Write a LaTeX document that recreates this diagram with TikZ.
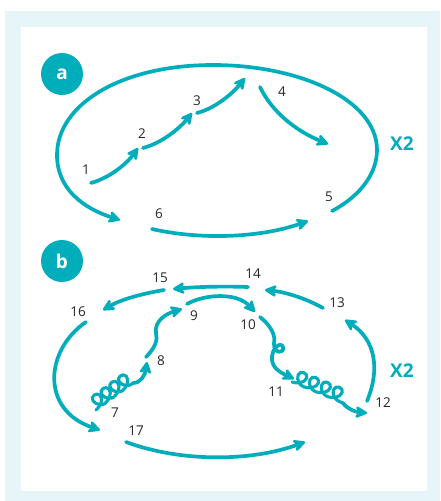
\documentclass[tikz,border=0pt]{standalone}
\usepackage{fontspec}
\setmainfont{Open Sans}
\usetikzlibrary{arrows.meta}
\definecolor{teal1}{RGB}{0,173,187}
\definecolor{bgc}{RGB}{230,245,247}
\tikzset{
  ln/.style={draw=teal1,line width=3.7pt,line cap=round,line join=round},
  arr/.style={ln,-{Stealth[length=15pt,width=15pt,inset=5pt,round]}},
  lbl/.style={font=\fontsize{13.5}{13.5}\selectfont,text=black!85,inner sep=0pt},
  xtwo/.style={font=\fontsize{19}{19}\selectfont\bfseries,text=teal1,inner sep=0pt},
  badge/.style={circle,fill=teal1,minimum size=42pt,inner sep=0pt,text=white,font=\fontsize{19}{19}\selectfont\bfseries},
  coilln/.style={ln,line width=3.1pt}
}
% cursive loops along local x axis: #1 = number of loops minus one, #2 = period, #3 = total length
\newcommand{\mycoil}[3]{%
  \draw[coilln] (0,0) foreach \i in {0,...,#1} {
     .. controls ({\i*#2+5},0) and ({\i*#2+12.5},4) .. ({\i*#2+12},9.5)
     .. controls ({\i*#2+11.5},14.5) and ({\i*#2+2.8},14.5) .. ({\i*#2+3},9)
     .. controls ({\i*#2+3.2},3.5) and ({\i*#2+8},0) .. ({\i*#2+#2},0) } -- (#3,0);}
\begin{document}
\begin{tikzpicture}[x=1pt,y=-1pt]
\useasboundingbox (0,0) rectangle (440,501);
\fill[bgc] (5,11) rectangle (440,501);
\fill[white] (21,27) rectangle (427,491);
% badges
\node[badge] (ba) at (62,74) {a};
\node[badge] (bb) at (62,261) {b};
% ---------- part a ----------
\node[lbl] (n1) at (86,170) {1};
\node[lbl] (n2) at (142,134) {2};
\node[lbl] (n3) at (197,101) {3};
\node[lbl] (n4) at (282,92) {4};
\node[lbl] (n5) at (329,197) {5};
\node[lbl] (n6) at (159,214) {6};
\node[xtwo] (xa) at (402,144) {X2};
\coordinate (a1s) at (91,183); \coordinate (a1e) at (138,148);
\coordinate (a2s) at (143,148); \coordinate (a2e) at (192,113);
\coordinate (a3s) at (197,113); \coordinate (a3e) at (245,78);
\coordinate (a4s) at (260,87); \coordinate (a4e) at (328,144);
\coordinate (a5s) at (332,211); \coordinate (a5e) at (120,220);
\coordinate (a6s) at (152,229); \coordinate (a6e) at (308,221);
\draw[arr] (a1s) .. controls (112,177) and (128,162) .. (a1e);
\draw[arr] (a2s) .. controls (162,143) and (180,128) .. (a2e);
\draw[arr] (a3s) .. controls (216,108) and (233,93) .. (a3e);
\draw[arr] (a4s) .. controls (272,112) and (296,131) .. (a4e);
\draw[arr] (a5s) .. controls (362,195) and (377,172) .. (377,150)
   .. controls (377,100) and (300,65) .. (213,65)
   .. controls (120,65) and (57,105) .. (57,155)
   .. controls (57,188) and (82,208) .. (a5e);
\draw[arr] (a6s) .. controls (200,240) and (260,238) .. (a6e);
% ---------- part b ----------
\node[lbl] (n7) at (115,413) {7};
\node[lbl] (n8) at (161,361) {8};
\node[lbl] (n9) at (194,316) {9};
\node[lbl] (n10) at (248,325) {10};
\node[lbl] (n11) at (276,392) {11};
\node[lbl] (n12) at (383,403) {12};
\node[lbl] (n13) at (337,303) {13};
\node[lbl] (n14) at (253,274) {14};
\node[lbl] (n15) at (160,278) {15};
\node[lbl] (n16) at (78,312) {16};
\node[lbl] (n17) at (136,431) {17};
\node[xtwo] (xb) at (402,371) {X2};
\coordinate (b7s) at (96,410); \coordinate (b7m) at (133,383); \coordinate (b7e) at (147,362);
\coordinate (b8s) at (146,357); \coordinate (b8e) at (182,309);
\coordinate (b9s) at (187,304); \coordinate (b9e) at (255,312);
\coordinate (b10s) at (260,317); \coordinate (b10e) at (294,379);
\coordinate (b11s) at (292,382); \coordinate (b11m) at (343,403); \coordinate (b11e) at (367,413);
\coordinate (b12s) at (367,401); \coordinate (b12e) at (345,320);
\coordinate (b13s) at (323,308); \coordinate (b13e) at (265,290);
\coordinate (b14s) at (248,287); \coordinate (b14e) at (173,289);
\coordinate (b15s) at (164,290); \coordinate (b15e) at (103,310);
\coordinate (b16s) at (86,322); \coordinate (b16e) at (100,430);
\coordinate (b17s) at (126,442); \coordinate (b17e) at (305,442);
% coil 7
\begin{scope}[shift={(b7s)},rotate=36.1,x=1pt,y=1pt]
  \mycoil{3}{10.8}{45.8}
\end{scope}
\draw[arr] (b7m) .. controls (141,383) and (145,375) .. (b7e);
\draw[arr] (b8s) .. controls (155,348) and (158,340) .. (156,333)
   .. controls (154,322) and (165,314) .. (b8e);
\draw[arr] (b9s) .. controls (205,294) and (237,292) .. (b9e);
\draw[arr] (b10s) .. controls (270,325) and (276,335) .. (274,343)
   .. controls (273,354) and (285,354) .. (283,347)
   .. controls (281,341) and (271,348) .. (272,360)
   .. controls (273,370) and (284,374) .. (b10e);
% coil 11
\begin{scope}[shift={(b11s)},rotate=-22.4,x=1pt,y=1pt]
  \mycoil{3}{12.8}{55.2}
\end{scope}
\draw[arr] (b11m) .. controls (347,409) and (356,412) .. (b11e);
\draw[arr] (b12s) .. controls (380,370) and (376,340) .. (b12e);
\draw[arr] (b13s) .. controls (305,298) and (285,292) .. (b13e);
\draw[arr] (b14s) .. controls (220,286) and (195,287) .. (b14e);
\draw[arr] (b15s) .. controls (140,294) and (120,300) .. (b15e);
\draw[arr] (b16s) .. controls (45,350) and (40,410) .. (b16e);
\draw[arr] (b17s) .. controls (180,462) and (250,462) .. (b17e);
\end{tikzpicture}
\end{document}
